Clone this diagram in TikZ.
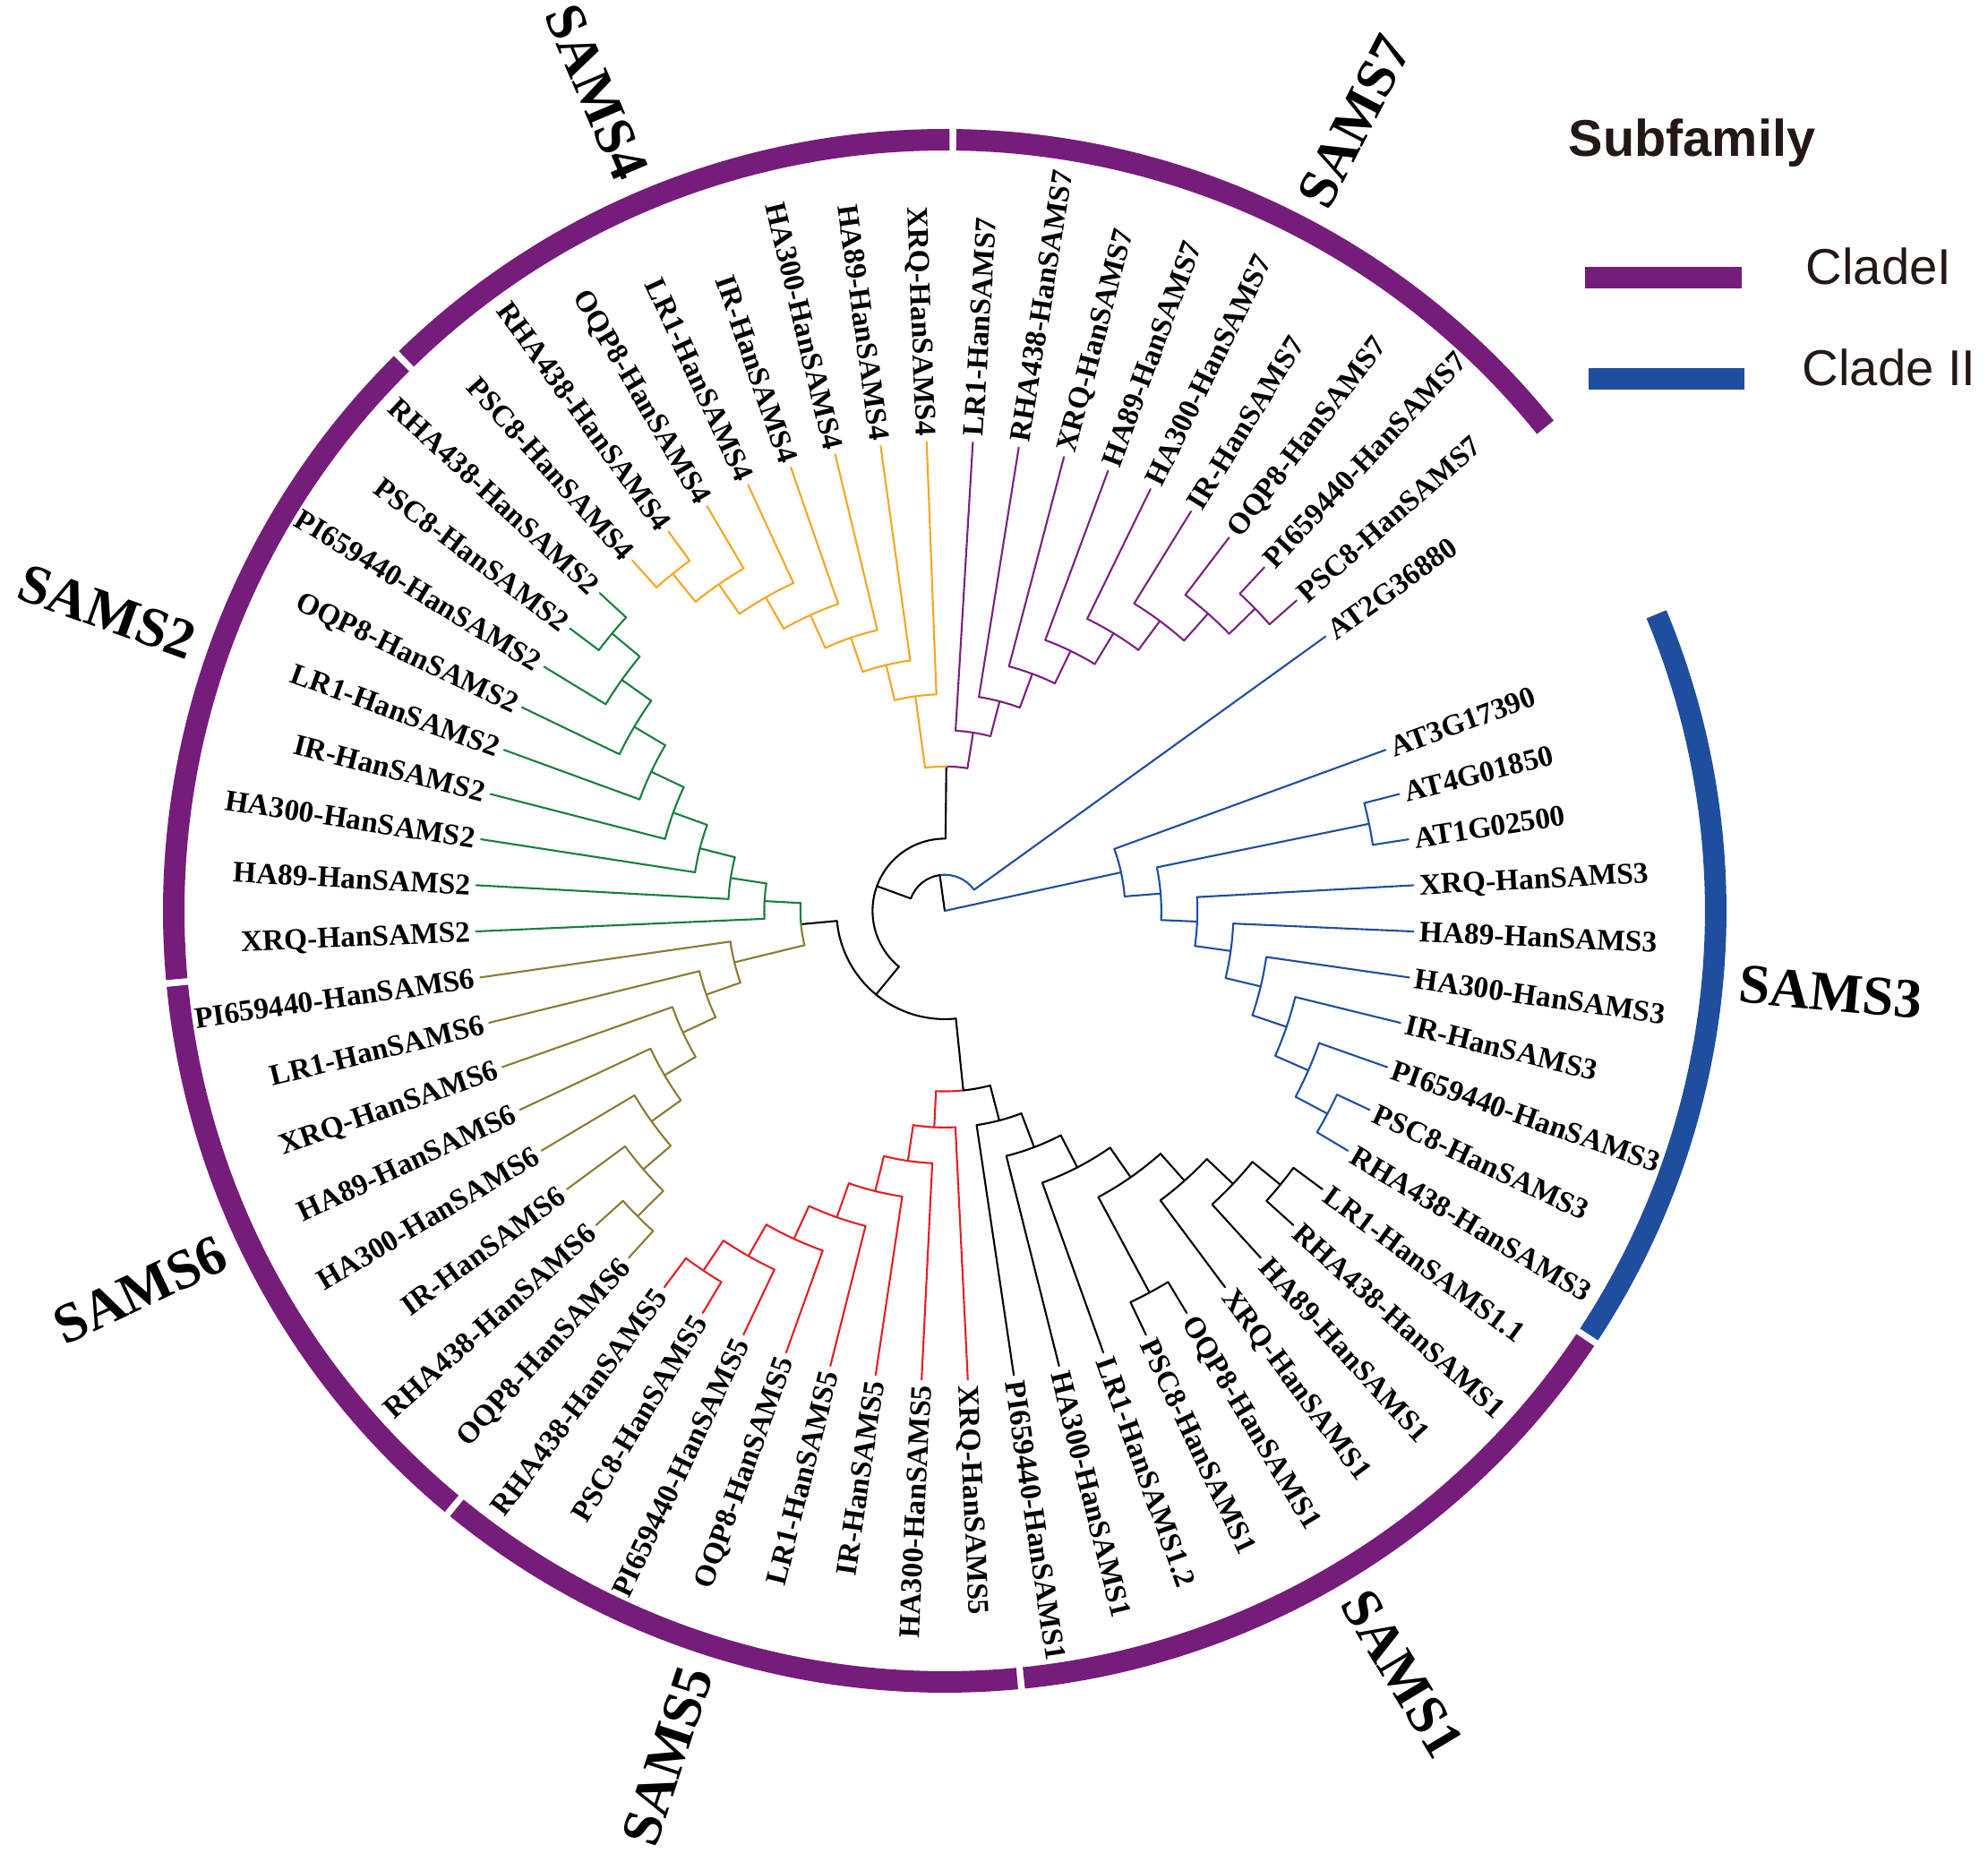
\documentclass[tikz,border=0pt]{standalone}
\usepackage{fontspec}
\setmainfont{Liberation Serif}
\newfontfamily\legendfont{Liberation Sans}
\usepackage{xcolor}
\definecolor{ringpurple}{HTML}{761C7B}
\definecolor{ringblue}{HTML}{1F4E9F}
\definecolor{treepurple}{HTML}{7A2180}
\definecolor{treeorange}{HTML}{F5A623}
\definecolor{treegreen}{HTML}{16803D}
\definecolor{treeolive}{HTML}{8C7A32}
\definecolor{treered}{HTML}{E41E25}
\definecolor{treeblue}{HTML}{1E4EA0}
\definecolor{legendtext}{HTML}{231815}
% radial step between two levels of the tree (cm)
\newcommand{\rstep}{0.40308}
\tikzset{
  % tree branch style
  branch/.style={
    line width=0.6pt
    , line cap=round
  },
}
\tikzset{
  % leaf label style
  leaf/.style={
    font=\fontsize{9.5}{11}\selectfont\bfseries
    , inner sep=0pt
    , text height=6.3pt
    , text depth=0pt
  },
}
\tikzset{
  % subfamily name outside the ring
  subfam/.style={
    font=\fontsize{17.8}{21}\selectfont\bfseries
    , inner sep=0pt
    , text height=12.1pt
    , text depth=0pt
  },
}
\tikzset{
  % subfamily ring and legend bars
  ring/.style={
    line width=0.24cm
  },
}
\tikzset{
  % legend text
  legend/.style={
    font=\legendfont\fontsize{16}{19}\selectfont
    , text=legendtext
    , inner sep=0pt
    , anchor=base west
  },
}
% clade node in one colour: name, height, parent height, angle, child angle 1, child angle 2, colour
\newcommand{\clade}[7]{%
  \coordinate (#1) at (#4:{\rstep*(13-#2)});
  \draw[branch, #7] (#4:{\rstep*(13-#3)}) -- (#1);
  \draw[branch, #7] (#5:{\rstep*(13-#2)}) arc[start angle=#5, end angle=#6, radius={\rstep*(13-#2)}];
}
% backbone node: name, height, parent height, angle, stem colour, child angle 1, colour 1, child angle 2, colour 2
\newcommand{\joint}[9]{%
  \coordinate (#1) at (#4:{\rstep*(13-#2)});
  \draw[branch, #5] (#4:{\rstep*(13-#3)}) -- (#1);
  \draw[branch, #7] (#1) arc[start angle=#4, end angle=#6, radius={\rstep*(13-#2)}];
  \draw[branch, #9] (#1) arc[start angle=#4, end angle=#8, radius={\rstep*(13-#2)}];
}

\begin{document}
\begin{tikzpicture}
  \useasboundingbox (-10.55,-10.61) rectangle (11.65,10.17);
  \coordinate (root) at (0,0);

  % backbone
  \joint{bb1}{12}{13}{97.883}{black}{35.77}{treeblue}{159.996}{black}
  \joint{bb2}{11}{12}{159.996}{black}{89.377}{black}{230.615}{black}
  \joint{bb3}{9}{11}{89.377}{black}{80.9455}{treepurple}{97.809}{treeorange}
  \joint{bb4}{10}{11}{230.615}{black}{185.325}{black}{275.9045}{black}
  \joint{bb5}{9}{10}{185.325}{black}{176.8905}{treegreen}{193.759}{treeolive}
  \joint{bb6}{8}{10}{275.9045}{black}{267.218}{treered}{284.591}{black}

  % SAMS7
  \clade{s7a}{8}{9}{80.9455}{86.57}{75.321}{treepurple}
  \clade{s7b}{7}{8}{75.321}{80.92}{69.722}{treepurple}
  \clade{s7c}{6}{7}{69.722}{75.28}{64.1645}{treepurple}
  \clade{s7d}{5}{6}{64.1645}{69.63}{58.699}{treepurple}
  \clade{s7e}{4}{5}{58.699}{63.99}{53.40875}{treepurple}
  \clade{s7f}{3}{4}{53.40875}{58.35}{48.4675}{treepurple}
  \clade{s7g}{2}{3}{48.4675}{52.70}{44.235}{treepurple}
  \clade{s7h}{1}{2}{44.235}{47.06}{41.41}{treepurple}

  % SAMS4
  \clade{s4a}{7}{9}{97.809}{92.21}{103.408}{treeorange}
  \clade{s4b}{6}{7}{103.408}{97.85}{108.9665}{treeorange}
  \clade{s4c}{5}{6}{108.9665}{103.50}{114.433}{treeorange}
  \clade{s4d}{4}{5}{114.433}{109.14}{119.726}{treeorange}
  \clade{s4e}{3}{4}{119.726}{114.79}{124.6625}{treeorange}
  \clade{s4f}{2}{3}{124.6625}{120.43}{128.895}{treeorange}
  \clade{s4g}{1}{2}{128.895}{126.07}{131.72}{treeorange}

  % SAMS2
  \clade{s2a}{8}{9}{176.8905}{171.271}{182.51}{treegreen}
  \clade{s2b}{7}{8}{171.271}{165.672}{176.87}{treegreen}
  \clade{s2c}{6}{7}{165.672}{160.1135}{171.23}{treegreen}
  \clade{s2d}{5}{6}{160.1135}{154.647}{165.58}{treegreen}
  \clade{s2e}{4}{5}{154.647}{149.354}{159.94}{treegreen}
  \clade{s2f}{3}{4}{149.354}{144.4175}{154.29}{treegreen}
  \clade{s2g}{2}{3}{144.4175}{140.185}{148.65}{treegreen}
  \clade{s2h}{1}{2}{140.185}{137.36}{143.01}{treegreen}

  % SAMS6
  \clade{s6a}{7}{9}{193.759}{188.16}{199.3575}{treeolive}
  \clade{s6b}{6}{7}{199.3575}{193.80}{204.915}{treeolive}
  \clade{s6c}{5}{6}{204.915}{199.45}{210.3805}{treeolive}
  \clade{s6d}{4}{5}{210.3805}{205.09}{215.671}{treeolive}
  \clade{s6e}{3}{4}{215.671}{210.73}{220.6125}{treeolive}
  \clade{s6f}{2}{3}{220.6125}{216.38}{224.845}{treeolive}
  \clade{s6g}{1}{2}{224.845}{222.02}{227.67}{treeolive}

  % SAMS5
  \clade{s5a}{7}{8}{267.218}{261.6165}{272.82}{treered}
  \clade{s5b}{6}{7}{261.6165}{256.063}{267.17}{treered}
  \clade{s5c}{5}{6}{256.063}{250.596}{261.53}{treered}
  \clade{s5d}{4}{5}{250.596}{245.3025}{255.89}{treered}
  \clade{s5e}{3}{4}{245.3025}{240.365}{250.24}{treered}
  \clade{s5f}{2}{3}{240.365}{236.13}{244.60}{treered}
  \clade{s5g}{1}{2}{236.13}{233.31}{238.95}{treered}

  % SAMS1
  \clade{s1a}{7}{8}{284.591}{278.46}{290.722}{black}
  \clade{s1b}{6}{7}{290.722}{284.11}{297.334}{black}
  \clade{s1c}{5}{6}{297.334}{289.75}{304.9175}{black}
  \clade{s1d}{4}{5}{304.9175}{298.215}{311.62}{black}
  \clade{s1e}{3}{4}{311.62}{306.68}{316.56}{black}
  \clade{s1f}{2}{3}{316.56}{312.33}{320.79}{black}
  \clade{s1g}{1}{2}{320.79}{317.97}{323.61}{black}
  \clade{s1h}{1}{4}{298.215}{295.39}{301.04}{black}

  % SAMS3
  \clade{s3a}{8}{13}{372.314}{364.5775}{380.05}{treeblue}
  \clade{s3b}{7}{8}{364.5775}{357.565}{371.59}{treeblue}
  \clade{s3c}{1}{7}{371.59}{368.77}{374.41}{treeblue}
  \clade{s3d}{6}{7}{357.565}{352.0105}{363.12}{treeblue}
  \clade{s3e}{5}{6}{352.0105}{346.541}{357.48}{treeblue}
  \clade{s3f}{4}{5}{346.541}{341.2525}{351.83}{treeblue}
  \clade{s3g}{3}{4}{341.2525}{336.315}{346.19}{treeblue}
  \clade{s3h}{2}{3}{336.315}{332.08}{340.55}{treeblue}
  \clade{s3i}{1}{2}{332.08}{329.26}{334.90}{treeblue}

  % leaves: index / label / colour / height of parent
  \foreach \i/\lab/\col/\hp in {
      0/AT2G36880/treeblue/12,
      1/PSC8-HanSAMS7/treepurple/1,
      2/PI659440-HanSAMS7/treepurple/1,
      3/OQP8-HanSAMS7/treepurple/2,
      4/IR-HanSAMS7/treepurple/3,
      5/HA300-HanSAMS7/treepurple/4,
      6/HA89-HanSAMS7/treepurple/5,
      7/XRQ-HanSAMS7/treepurple/6,
      8/RHA438-HanSAMS7/treepurple/7,
      9/LR1-HanSAMS7/treepurple/8,
      10/XRQ-HanSAMS4/treeorange/7,
      11/HA89-HanSAMS4/treeorange/6,
      12/HA300-HanSAMS4/treeorange/5,
      13/IR-HanSAMS4/treeorange/4,
      14/LR1-HanSAMS4/treeorange/3,
      15/OQP8-HanSAMS4/treeorange/2,
      16/RHA438-HanSAMS4/treeorange/1,
      17/PSC8-HanSAMS4/treeorange/1,
      18/RHA438-HanSAMS2/treegreen/1,
      19/PSC8-HanSAMS2/treegreen/1,
      20/PI659440-HanSAMS2/treegreen/2,
      21/OQP8-HanSAMS2/treegreen/3,
      22/LR1-HanSAMS2/treegreen/4,
      23/IR-HanSAMS2/treegreen/5,
      24/HA300-HanSAMS2/treegreen/6,
      25/HA89-HanSAMS2/treegreen/7,
      26/XRQ-HanSAMS2/treegreen/8,
      27/PI659440-HanSAMS6/treeolive/7,
      28/LR1-HanSAMS6/treeolive/6,
      29/XRQ-HanSAMS6/treeolive/5,
      30/HA89-HanSAMS6/treeolive/4,
      31/HA300-HanSAMS6/treeolive/3,
      32/IR-HanSAMS6/treeolive/2,
      33/RHA438-HanSAMS6/treeolive/1,
      34/OQP8-HanSAMS6/treeolive/1,
      35/RHA438-HanSAMS5/treered/1,
      36/PSC8-HanSAMS5/treered/1,
      37/PI659440-HanSAMS5/treered/2,
      38/OQP8-HanSAMS5/treered/3,
      39/LR1-HanSAMS5/treered/4,
      40/IR-HanSAMS5/treered/5,
      41/HA300-HanSAMS5/treered/6,
      42/XRQ-HanSAMS5/treered/7,
      43/PI659440-HanSAMS1/black/7,
      44/HA300-HanSAMS1/black/6,
      45/LR1-HanSAMS1.2/black/5,
      46/PSC8-HanSAMS1/black/1,
      47/OQP8-HanSAMS1/black/1,
      48/XRQ-HanSAMS1/black/3,
      49/HA89-HanSAMS1/black/2,
      50/RHA438-HanSAMS1/black/1,
      51/LR1-HanSAMS1.1/black/1,
      52/RHA438-HanSAMS3/treeblue/1,
      53/PSC8-HanSAMS3/treeblue/1,
      54/PI659440-HanSAMS3/treeblue/2,
      55/IR-HanSAMS3/treeblue/3,
      56/HA300-HanSAMS3/treeblue/4,
      57/HA89-HanSAMS3/treeblue/5,
      58/XRQ-HanSAMS3/treeblue/6,
      59/AT1G02500/treeblue/1,
      60/AT4G01850/treeblue/1,
      61/AT3G17390/treeblue/8}{
    \pgfmathsetmacro\ang{35.77+5.644*\i}
    \pgfmathtruncatemacro\flip{cos(\ang)<0 ? 1 : 0}
    \coordinate (t\i) at (\ang:5.24);
    \draw[branch, \col] (\ang:{\rstep*(13-\hp)}) -- (t\i);
    \ifnum\flip=1
      \node[leaf, anchor=east, rotate=\ang-180] (l\i) at (\ang:5.30) {\lab};
    \else
      \node[leaf, anchor=west, rotate=\ang] (l\i) at (\ang:5.30) {\lab};
    \fi
  }

  % subfamily ring
  \foreach \s/\e/\col in {38.59/89.39/ringpurple, 89.39/134.54/ringpurple,
      134.54/185.33/ringpurple, 185.33/230.49/ringpurple, 230.49/275.64/ringpurple,
      275.64/326.43/ringpurple, 326.43/382.87/ringblue}{
    \draw[ring, \col] ({\s+0.25}:8.61) arc[start angle=\s+0.25, end angle=\e-0.25, radius=8.61];
  }

  % subfamily names
  \foreach \ang/\lab in {62.6/SAMS7, 113/SAMS4, 160.3/SAMS2, 205.2/SAMS6,
      251.8/SAMS5, 301/SAMS1, 354.8/SAMS3}{
    \pgfmathtruncatemacro\flip{cos(\ang)<0 ? 1 : 0}
    \ifnum\flip=1
      \node[subfam, anchor=east, rotate=\ang-180] (sf\lab) at (\ang:8.9) {\lab};
    \else
      \node[subfam, anchor=west, rotate=\ang] (sf\lab) at (\ang:8.9) {\lab};
    \fi
  }

  % legend
  \node[legend, font=\legendfont\bfseries\fontsize{16.4}{19}\selectfont] (subfamily) at (6.96,8.42) {Subfamily};
  \coordinate (bar1a) at (7.15,7.07);
  \coordinate (bar1b) at (8.90,7.07);
  \coordinate (bar2a) at (7.19,5.94);
  \coordinate (bar2b) at (8.93,5.94);
  \draw[ring, ringpurple] (bar1a) -- (bar1b);
  \draw[ring, ringblue] (bar2a) -- (bar2b);
  \node[legend] (cladeone) at (9.61,6.99) {CladeI};
  \node[legend] (cladetwo) at (9.57,5.86) {Clade II};
\end{tikzpicture}
\end{document}
